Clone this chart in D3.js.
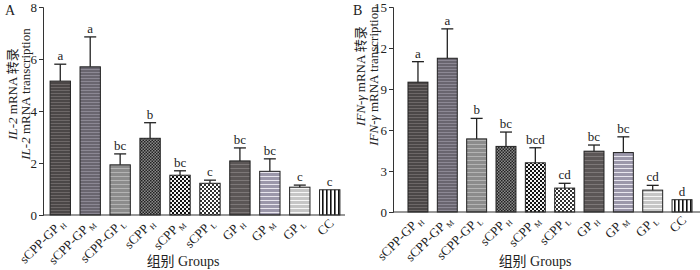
<!DOCTYPE html>
<html>
<head>
<meta charset="utf-8">
<script src="https://cdn.jsdelivr.net/npm/d3@7"></script>
<style>
  body { margin: 0; background: #fff; }
  svg { display: block; }
  text { font-family: "Liberation Serif", "Noto Sans CJK SC", serif; fill: #222; }
</style>
</head>
<body>
<div id="chart"></div>
<script>
// groups on the x axis (name + subscript)
const groupNames = ["sCPP-GP", "sCPP-GP", "sCPP-GP", "sCPP", "sCPP", "sCPP", "GP", "GP", "GP", "CC"];
const groupSubs = ["H", "M", "L", "H", "M", "L", "H", "M", "L", ""];

// panel A: IL-2
const il2Mean = [5.15, 5.7, 1.93, 2.95, 1.53, 1.22, 2.08, 1.68, 1.07, 0.97];
const il2Err = [0.65, 1.15, 0.42, 0.6, 0.17, 0.12, 0.5, 0.48, 0.08, 0];
const il2Letters = ["a", "a", "bc", "b", "bc", "c", "bc", "bc", "c", "c"];
const il2Ticks = [0, 2, 4, 6, 8];

// panel B: IFN-γ
const ifnMean = [9.5, 11.25, 5.35, 4.8, 3.6, 1.75, 4.45, 4.35, 1.6, 0.9];
const ifnErr = [1.5, 2.15, 1.5, 1.05, 1.1, 0.35, 0.45, 1.15, 0.35, 0];
const ifnLetters = ["a", "a", "b", "bc", "bcd", "cd", "bc", "bc", "cd", "d"];
const ifnTicks = [0, 3, 6, 9, 12, 15];

const W = 700, H = 270;
const svg = d3.select("#chart").append("svg")
  .attr("width", W).attr("height", H);

// fill patterns, one per group
const defs = svg.append("defs");
function stripes(id, bg, line, gap) {
  const p = defs.append("pattern").attr("id", id)
    .attr("patternUnits", "userSpaceOnUse").attr("width", 4).attr("height", gap);
  p.append("rect").attr("width", 4).attr("height", gap).attr("fill", bg);
  p.append("rect").attr("y", 0).attr("width", 4).attr("height", 1).attr("fill", line);
}
function checker(id, a, b, s) {
  const p = defs.append("pattern").attr("id", id)
    .attr("patternUnits", "userSpaceOnUse").attr("width", s * 2).attr("height", s * 2);
  p.append("rect").attr("width", s * 2).attr("height", s * 2).attr("fill", b);
  p.append("rect").attr("width", s).attr("height", s).attr("fill", a);
  p.append("rect").attr("x", s).attr("y", s).attr("width", s).attr("height", s).attr("fill", a);
}
stripes("p0", "#4b4747", "#6d6868", 3);
stripes("p1", "#69656f", "#8c8894", 3);
stripes("p2", "#8c8c8c", "#b4b4b4", 4);
checker("p3", "#222", "#8a8a8a", 1.5);
checker("p4", "#111", "#f2f2f2", 2);
checker("p5", "#333", "#ffffff", 2);
stripes("p6", "#5b5656", "#7d7878", 4);
stripes("p7", "#9b97aa", "#e8e6ee", 4);
stripes("p8", "#c6c6c6", "#f6f6f6", 4);
{
  const p = defs.append("pattern").attr("id", "p9")
    .attr("patternUnits", "userSpaceOnUse").attr("width", 4).attr("height", 4);
  p.append("rect").attr("width", 4).attr("height", 4).attr("fill", "#fff");
  p.append("rect").attr("x", 2).attr("width", 1.6).attr("height", 4).attr("fill", "#111");
}
const fills = d3.range(10).map(i => `url(#p${i})`);

function panel(cfg) {
  const g = svg.append("g");
  const x = d3.scaleBand().domain(d3.range(10)).range(cfg.xRange)
    .paddingInner(0.32).paddingOuter(0.17);
  const y = d3.scaleLinear().domain([0, cfg.max]).range([cfg.y0, 7]);

  // y axis
  g.append("g").attr("transform", `translate(${cfg.axisX},0)`)
    .call(d3.axisLeft(y).tickValues(cfg.ticks).tickSize(4).tickPadding(2))
    .call(a => a.select(".domain").attr("stroke", "#333"))
    .call(a => a.selectAll(".tick line").attr("stroke", "#333"))
    .call(a => a.selectAll("text").attr("font-size", 13)
      .attr("font-family", "Liberation Serif").attr("fill", "#333"));

  // bars
  g.selectAll("rect.bar").data(cfg.mean).join("rect")
    .attr("class", "bar")
    .attr("x", (d, i) => x(i)).attr("width", x.bandwidth())
    .attr("y", d => y(d)).attr("height", d => y(0) - y(d))
    .attr("fill", (d, i) => fills[i])
    .attr("stroke", "#222").attr("stroke-width", 1);

  // error bars
  const eb = g.selectAll("g.err").data(cfg.mean).join("g").attr("class", "err")
    .filter((d, i) => cfg.err[i] > 0);
  eb.append("line")
    .attr("x1", (d, i, n) => x(cfg.mean.indexOf(d)) + x.bandwidth() / 2)
    .attr("x2", (d, i, n) => x(cfg.mean.indexOf(d)) + x.bandwidth() / 2)
    .attr("y1", d => y(d)).attr("y2", d => y(d + cfg.err[cfg.mean.indexOf(d)]))
    .attr("stroke", "#222").attr("stroke-width", 1.3);
  eb.append("line")
    .attr("x1", d => x(cfg.mean.indexOf(d)) + x.bandwidth() / 2 - 6)
    .attr("x2", d => x(cfg.mean.indexOf(d)) + x.bandwidth() / 2 + 6)
    .attr("y1", d => y(d + cfg.err[cfg.mean.indexOf(d)]))
    .attr("y2", d => y(d + cfg.err[cfg.mean.indexOf(d)]))
    .attr("stroke", "#222").attr("stroke-width", 1.3);

  // significance letters
  g.selectAll("text.sig").data(cfg.letters).join("text")
    .attr("class", "sig")
    .attr("x", (d, i) => x(i) + x.bandwidth() / 2)
    .attr("y", (d, i) => y(cfg.mean[i] + cfg.err[i]) - 4)
    .attr("text-anchor", "middle").attr("font-size", 13)
    .text(d => d);

  // x axis line
  g.append("line").attr("x1", cfg.axisX).attr("x2", cfg.xEnd)
    .attr("y1", y(0)).attr("y2", y(0)).attr("stroke", "#333").attr("stroke-width", 1.2);

  // rotated group labels with subscripts
  const lab = g.selectAll("text.xl").data(groupNames).join("text")
    .attr("class", "xl")
    .attr("text-anchor", "end").attr("font-size", 13)
    .attr("transform", (d, i) => `translate(${x(i) + x.bandwidth() / 2 + 5},${y(0) + 9}) rotate(-45)`);
  lab.append("tspan").text(d => d);
  lab.append("tspan").attr("font-size", 8).attr("dx", 2).attr("dy", 3)
    .text((d, i) => groupSubs[i]);

  // y title, two lines
  const tt = g.append("text").attr("font-size", 13).attr("text-anchor", "middle")
    .attr("transform", `translate(${cfg.titleX},${cfg.titleY}) rotate(-90)`);
  tt.append("tspan").attr("font-style", "italic").text(cfg.gene);
  tt.append("tspan").text(" mRNA 转录");
  const t2 = g.append("text").attr("font-size", 13).attr("text-anchor", "middle")
    .attr("transform", `translate(${cfg.titleX + 13},${cfg.titleY}) rotate(-90)`);
  t2.append("tspan").attr("font-style", "italic").text(cfg.gene);
  t2.append("tspan").text(" mRNA transcription");

  // x title
  g.append("text").attr("x", cfg.xTitle).attr("y", 266)
    .attr("text-anchor", "middle").attr("font-size", 14)
    .text("组别 Groups");

  // panel letter
  g.append("text").attr("x", cfg.letterX).attr("y", 15)
    .attr("font-size", 14).text(cfg.tag);
}

panel({
  mean: il2Mean, err: il2Err, letters: il2Letters, ticks: il2Ticks, max: 8,
  xRange: [45, 345], axisX: 43, xEnd: 345, y0: 215,
  gene: "IL-2", titleX: 17, titleY: 94, xTitle: 183, letterX: 5, tag: "A"
});
panel({
  mean: ifnMean, err: ifnErr, letters: ifnLetters, ticks: ifnTicks, max: 15,
  xRange: [403, 697], axisX: 393, xEnd: 700, y0: 212,
  gene: "IFN-γ", titleX: 365, titleY: 76, xTitle: 535, letterX: 353, tag: "B"
});
</script>
</body>
</html>
